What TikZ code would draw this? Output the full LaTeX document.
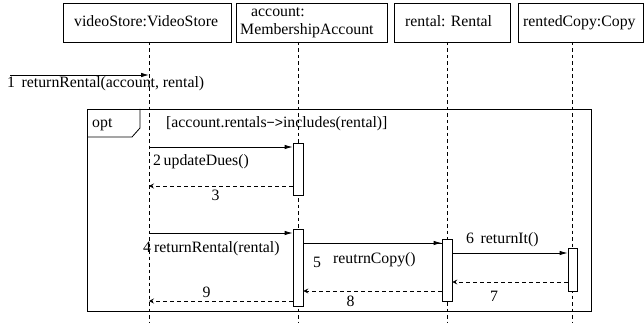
\documentclass[tikz,border=0pt]{standalone}
\usepackage{fontspec}
\setmainfont{Liberation Serif}
\usetikzlibrary{arrows.meta}
\begin{document}
\begin{tikzpicture}[x=1pt,y=-1pt,
  every node/.style={font=\fontsize{15.8}{18}\selectfont},
  hdr/.style={draw, line width=0.8pt, minimum height=39pt, inner sep=0pt},
  lifeline/.style={dashed, dash pattern=on 3.5pt off 3pt, line width=0.7pt},
  act/.style={draw, fill=white, line width=0.8pt, minimum width=10pt, inner sep=0pt},
  call/.style={line width=0.8pt, -{Latex[length=8pt,width=4.5pt]}},
  reply/.style={line width=0.8pt, dashed, dash pattern=on 4pt off 3pt, -{Stealth[length=5pt,width=5pt,inset=2pt]}},
  lbl/.style={anchor=base west, inner sep=0pt},
  clbl/.style={anchor=base, inner sep=0pt}]
\useasboundingbox (0,0) rectangle (644,323);

% object headers
\node[hdr, minimum width=168pt] (vs) at (147,22.5) {};
\node[lbl] (vst) at (74,27) {videoStore:VideoStore};
\node[hdr, minimum width=151pt] (acc) at (311.5,22.5) {};
\node[lbl] (acct1) at (251,17) {account:};
\node[lbl] (acct2) at (240,35) {MembershipAccount};
\node[hdr, minimum width=116pt] (ren) at (452,22.5) {};
\node[lbl] (rent) at (405,27) {rental: Rental};
\node[hdr, minimum width=125pt] (cpy) at (580.5,22.5) {};
\node[lbl] (cpyt) at (523,27) {rentedCopy:Copy};

% combined fragment
\draw[line width=0.8pt] (87,109) rectangle (591,311);
\draw[line width=0.8pt] (87,137) -- (132,137) -- (140,128) -- (140,109);
\node[lbl] (opt) at (92,128) {opt};
\node[lbl] (guard) at (166,128) {[account.rentals{\fontspec{Liberation Sans}\fontsize{14}{18}\selectfont{}−>}includes(rental)]};

% lifelines
\coordinate (vsL) at (149,42);
\coordinate (accL) at (298,42);
\coordinate (renL) at (447,42);
\coordinate (cpyL) at (572,42);
\draw[lifeline] (vsL) -- (149,323);
\draw[lifeline] (accL) -- (298,323);
\draw[lifeline] (renL) -- (447,323);
\draw[lifeline] (cpyL) -- (572,323);

% activations
\node[act, minimum height=52pt] (a1) at (298,169) {};
\node[act, minimum height=77pt] (a2) at (298,267.5) {};
\node[act, minimum height=62pt] (a3) at (447,270) {};
\node[act, minimum height=43pt, minimum width=9pt] (a4) at (572.5,269.5) {};

% message anchor points
\coordinate (start) at (10,75);
\coordinate (m1) at (149,75);
\coordinate (m2) at (149,147);
\coordinate (m3) at (149,186);
\coordinate (m4) at (149,233);
\coordinate (m9) at (149,301);

% messages
\draw[call] (start) -- (m1);
\node[lbl] (l1) at (7,88) {1\, returnRental(account, rental)};

\draw[call] (m2) -- (a1.west |- m2);
\node[lbl] (l2) at (153,165) {2\,updateDues()};

\draw[reply] (a1.west |- m3) -- (m3);
\node[clbl] (l3) at (215.5,200) {3};

\draw[call] (m4) -- (a2.west |- m4);
\node[lbl] (l4) at (143,252) {4\hspace{3pt}returnRental(rental)};

\coordinate (m5) at (303,243);
\draw[line width=0.8pt] (a2.east |- m5) -- (a3.west |- m5);
\draw[call] ([xshift=-10pt]a3.west |- m5) -- (a3.west |- m5);
\node[clbl] (l5) at (317,267) {5};
\node[lbl] (l5b) at (333,263) {reutrnCopy()};

\coordinate (m6) at (452,253);
\draw[call] (a3.east |- m6) -- (a4.west |- m6);
\node[lbl] (l6) at (466,243) {6\, returnIt()};

\coordinate (m7) at (452,282);
\draw[reply] (a4.west |- m7) -- (a3.east |- m7);
\node[clbl] (l7) at (494,301) {7};

\coordinate (m8) at (303,291);
\draw[reply] (a3.west |- m8) -- (a2.east |- m8);
\node[clbl] (l8) at (350.5,306) {8};

\draw[reply] (a2.west |- m9) -- (m9);
\node[clbl] (l9) at (206.5,297) {9};
\end{tikzpicture}
\end{document}
